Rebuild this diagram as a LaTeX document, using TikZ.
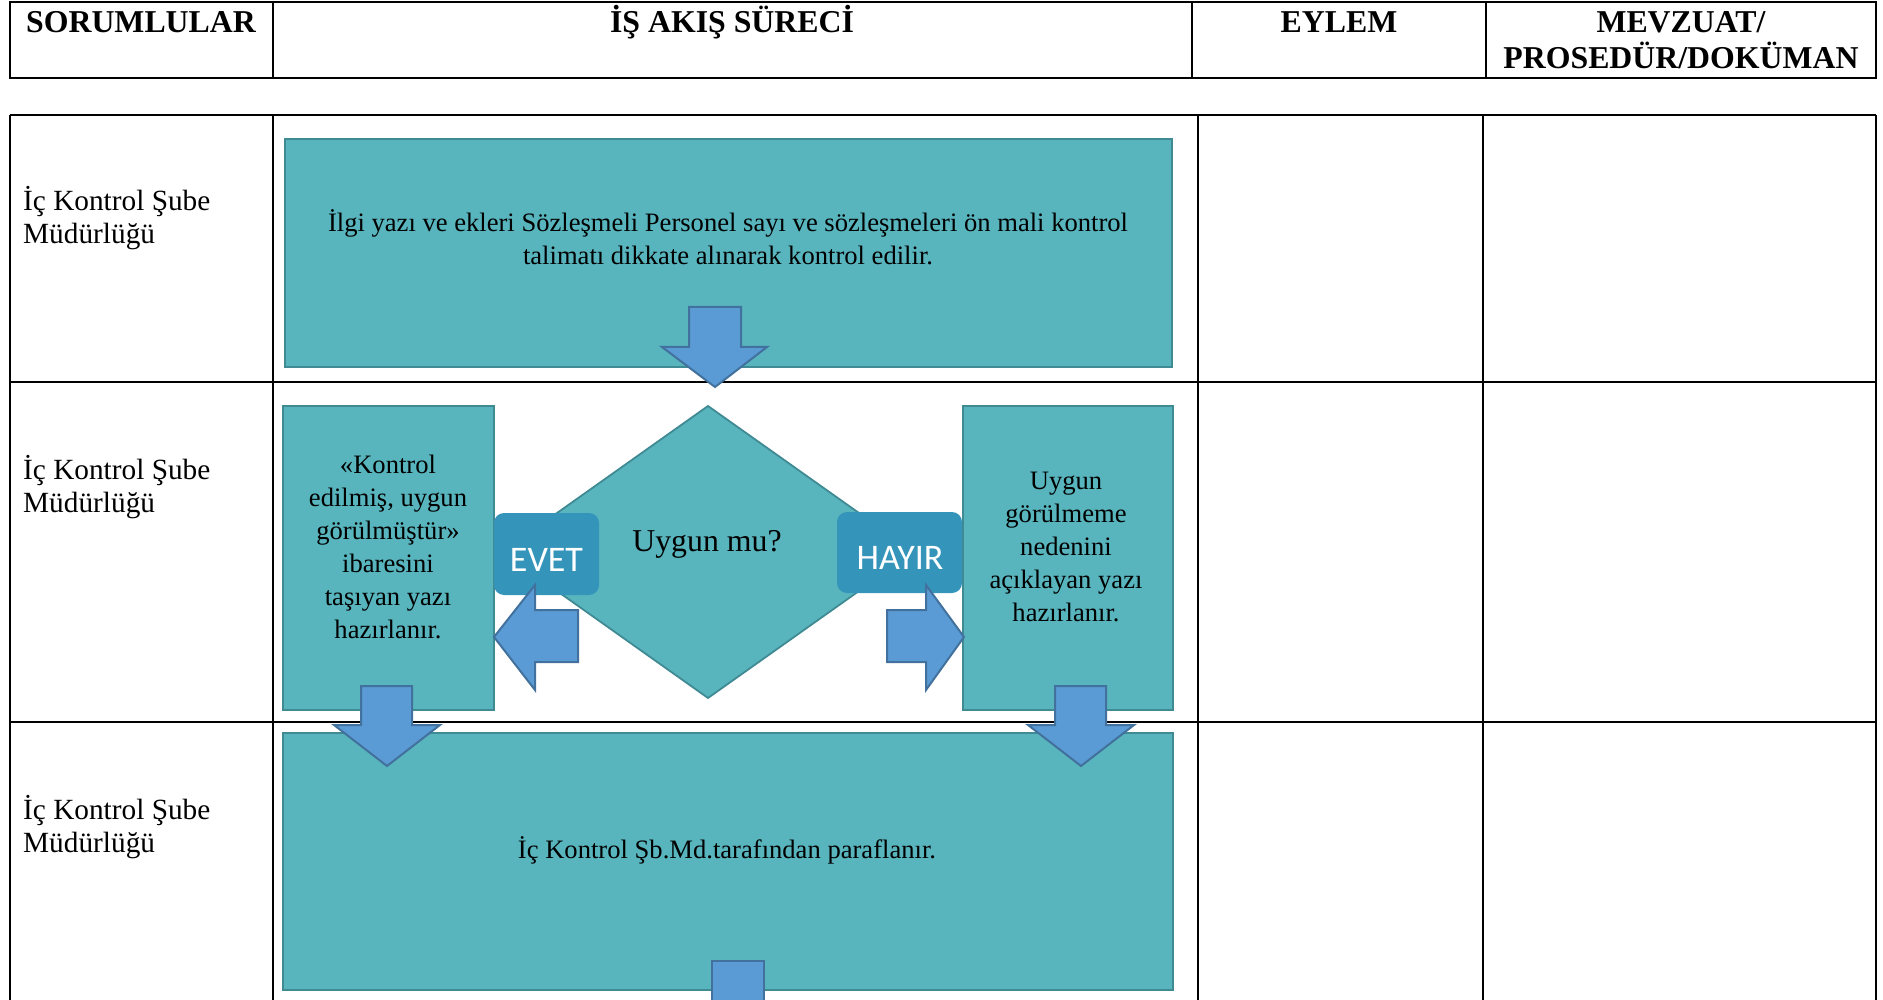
\documentclass[tikz,border=0pt]{standalone}
\usepackage{fontspec}
\setmainfont{Liberation Serif}
\newfontfamily\labelfont{Carlito}
\definecolor{tealfill}{RGB}{88,181,190}
\definecolor{tealborder}{RGB}{64,138,147}
\definecolor{arrowfill}{RGB}{91,155,213}
\definecolor{arrowborder}{RGB}{65,113,156}
\definecolor{labelfill}{RGB}{52,148,186}
\begin{document}
\begin{tikzpicture}[x=1pt,y=-1pt,
  thickrule/.style={line width=2.2pt,black},
  thinrule/.style={line width=1.4pt,black},
  hdrtext/.style={font=\bfseries\fontsize{31.8}{36}\selectfont,align=center,anchor=base,inner sep=0pt},
  resptext/.style={font=\fontsize{29.3}{33}\selectfont,align=left,anchor=base west,inner sep=0pt},
  bodytext/.style={font=\fontsize{26.6}{33}\selectfont,align=center,anchor=base,inner sep=0pt},
  procbox/.style={draw=tealborder,fill=tealfill,line width=2.5pt,inner sep=0pt},
  decbox/.style={draw=tealborder,fill=tealfill,line width=1.8pt},
  yesno/.style={fill=labelfill,rounded corners=10pt,inner sep=0pt},
  yesnotext/.style={font=\labelfont\fontsize{36}{40}\selectfont,text=white,anchor=base,inner sep=0pt},
  blockarrow/.style={draw=arrowborder,fill=arrowfill,line width=2pt,line join=miter}]
\useasboundingbox (0,0) rectangle (1883,1000);
% header table
\draw[thickrule] (10,2) rectangle (1876,78);
\draw[thinrule] (273,2) -- (273,78);
\draw[thinrule] (1192,2) -- (1192,78);
\draw[thinrule] (1486,2) -- (1486,78);
\node[hdrtext] (h1) at (141,33) {SORUMLULAR};
\node[hdrtext] (h2) at (732,33) {İŞ AKIŞ SÜRECİ};
\node[hdrtext] (h3) at (1339,33) {EYLEM};
\node[hdrtext] (h4) at (1681,69) {MEVZUAT/\\PROSEDÜR/DOKÜMAN};
% body table
\draw[thickrule] (10,115) -- (1876,115);
\draw[thickrule] (10,382) -- (1876,382);
\draw[thickrule] (10,722) -- (1876,722);
\foreach \cx in {10,273,1198,1483,1876} {\draw[thinrule] (\cx,115) -- (\cx,1001);}
\node[resptext] (r1) at (23,244) {İç Kontrol Şube\\Müdürlüğü};
\node[resptext] (r2) at (23,512) {İç Kontrol Şube\\Müdürlüğü};
\node[resptext] (r3) at (23,852) {İç Kontrol Şube\\Müdürlüğü};
% process boxes
\node[procbox,minimum width=887pt,minimum height=228pt] (b1) at (728.5,253) {};
\node[bodytext] (t1) at (728,265) {İlgi yazı ve ekleri Sözleşmeli Personel sayı ve sözleşmeleri ön mali kontrol\\talimatı dikkate alınarak kontrol edilir.};
\node[procbox,minimum width=211pt,minimum height=304pt] (b2) at (388.5,558) {};
\node[bodytext] (t2) at (388,638) {«Kontrol\\edilmiş, uygun\\görülmüştür»\\ibaresini\\taşıyan yazı\\hazırlanır.};
\node[procbox,minimum width=210pt,minimum height=304pt] (b3) at (1068,558) {};
\node[bodytext] (t3) at (1066,621) {Uygun\\görülmeme\\nedenini\\açıklayan yazı\\hazırlanır.};
\node[procbox,minimum width=890pt,minimum height=257pt] (b4) at (728,861.5) {};
\node[bodytext] (t4) at (727,858) {İç Kontrol Şb.Md.tarafından paraflanır.};
% decision
\draw[decbox] (708,406) coordinate (dtop) -- (914,552) coordinate (dright) -- (708,698) coordinate (dbottom) -- (502,552) coordinate (dleft) -- cycle;
\node[font=\fontsize{31.8}{36}\selectfont,anchor=base,inner sep=0pt] (q) at (707,551) {Uygun mu?};
\node[yesno,minimum width=105pt,minimum height=82pt] (evet) at (546.5,554) {};
\node[yesnotext] (evett) at (546.5,571) {EVET};
\node[yesno,minimum width=125pt,minimum height=81pt] (hayir) at (899.5,552.5) {};
\node[yesnotext] (hayirt) at (900,569) {HAYIR};
% block arrows
\draw[blockarrow] (689,307) -- (741,307) -- (741,347) -- (767,347) -- (715,387) -- (662,347) -- (689,347) -- cycle;
\draw[blockarrow] (578,610) -- (578,662) -- (535,662) -- (535,690) -- (494,637) -- (535,585) -- (535,610) -- cycle;
\draw[blockarrow] (887,610) -- (926,610) -- (926,585) -- (964,637) -- (926,690) -- (926,662) -- (887,662) -- cycle;
\draw[blockarrow] (361,686) -- (412,686) -- (412,725) -- (440,725) -- (387,766) -- (334,725) -- (361,725) -- cycle;
\draw[blockarrow] (1055,686) -- (1106,686) -- (1106,725) -- (1134,725) -- (1081,766) -- (1028,725) -- (1055,725) -- cycle;
\fill[arrowfill] (712,1003) -- (712,961) -- (764,961) -- (764,1003) -- cycle;
\draw[blockarrow,fill=none] (712,1003) -- (712,961) -- (764,961) -- (764,1003);
\end{tikzpicture}
\end{document}
